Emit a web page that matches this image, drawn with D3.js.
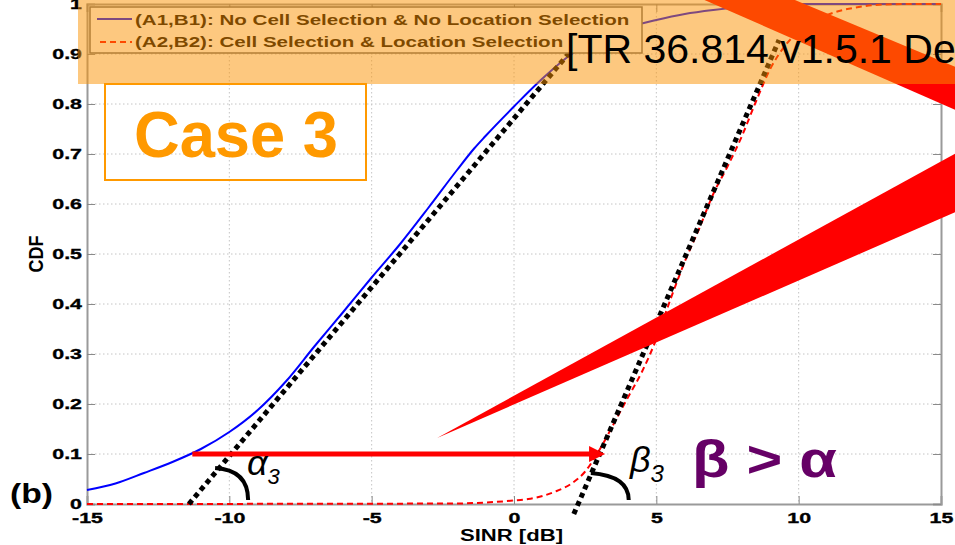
<!DOCTYPE html>
<html>
<head>
<meta charset="utf-8">
<script src="https://cdn.jsdelivr.net/npm/d3@7/dist/d3.min.js"></script>
<style>
  html, body { margin: 0; padding: 0; background: #fff; }
  svg { display: block; }
  text { font-family: "Liberation Sans", Arial, sans-serif; }
</style>
</head>
<body>
<svg id="chart" width="955" height="545"></svg>
<script>
// SINR CDF for the two selection schemes
const sinrBlue = [-15, -14, -13, -12, -11, -10, -9, -8, -7, -6, -5, -4, -3, -2, -1.4, -1, 0, 1, 2, 3, 4, 5, 6, 7, 8, 9, 10, 15];
const cdfBlue  = [0.028, 0.041, 0.062, 0.084, 0.11, 0.144, 0.188, 0.246, 0.316, 0.384, 0.453, 0.52, 0.593, 0.668, 0.711, 0.736, 0.795, 0.851, 0.899, 0.931, 0.953, 0.968, 0.98, 0.988, 0.994, 0.998, 1.0, 1.0];

const sinrRed = [-15, -2, -1, 0, 0.5, 1, 1.5, 2, 2.5, 3, 3.5, 4, 4.5, 5, 5.5, 6, 6.5, 7, 7.5, 8, 8.5, 9, 9.5, 10, 11, 12, 13, 14, 15];
const cdfRed  = [0, 0.001, 0.003, 0.007, 0.01, 0.016, 0.026, 0.04, 0.065, 0.108, 0.16, 0.213, 0.265, 0.33, 0.41, 0.485, 0.55, 0.62, 0.675, 0.735, 0.805, 0.87, 0.915, 0.945, 0.978, 0.993, 0.999, 1.0, 1.0];

// slope guides (SINR, CDF) end points
const tangentAlpha = [[-11.42, 0], [2.35, 0.93]];
const tangentBeta  = [[2.1, -0.02], [9.31, 0.928]];

// horizontal gap arrow at CDF = 0.1
const gapArrow = [[-11.3, 0.1], [3.2, 0.1]];

const xTicks = [-15, -10, -5, 0, 5, 10, 15];
const yTicks = [0, 0.1, 0.2, 0.3, 0.4, 0.5, 0.6, 0.7, 0.8, 0.9, 1];

const legendLabels = [
  "(A1,B1): No Cell Selection & No Location Selection",
  "(A2,B2): Cell Selection & Location Selection"
];

// callout wedges in data units
const wedgeLow = [[-2.7, 0.132], [15.6, 0.704], [15.6, 0.586]];
const wedgeTop = [[6.53, 1.012], [9.7, 1.012], [15.6, 0.872], [15.6, 0.786]];

const svg = d3.select("#chart");
const x = d3.scaleLinear().domain([-15, 15]).range([87, 941]);
const y = d3.scaleLinear().domain([0, 1]).range([504, 4]);

// widen a text element horizontally by a factor
const widen = (sel, k) => sel.each(function () {
  const len = this.getComputedTextLength();
  if (len > 0) d3.select(this).attr("textLength", len * k).attr("lengthAdjust", "spacingAndGlyphs");
});

svg.append("rect").attr("width", 955).attr("height", 545).attr("fill", "#fff");

// dotted grid
const grid = svg.append("g").attr("stroke", "#c4c4c4").attr("stroke-width", 1).attr("stroke-dasharray", "1.5 2.5");
grid.selectAll(".gx").data(xTicks.slice(1, -1)).join("line")
  .attr("x1", d => x(d)).attr("x2", d => x(d)).attr("y1", y(1)).attr("y2", y(0));
grid.selectAll(".gy").data(yTicks.slice(1, -1)).join("line")
  .attr("x1", x(-15)).attr("x2", x(15)).attr("y1", d => y(d)).attr("y2", d => y(d));

// axes with inward ticks
const fmt = d => String(d);
const axB = svg.append("g").attr("transform", `translate(0,${y(0)})`)
  .call(d3.axisBottom(x).tickValues(xTicks).tickFormat(fmt).tickSize(-8).tickPadding(8));
const axL = svg.append("g").attr("transform", `translate(${x(-15)},0)`)
  .call(d3.axisLeft(y).tickValues(yTicks).tickFormat(fmt).tickSize(-8).tickPadding(5));
const axR = svg.append("g").attr("transform", `translate(${x(15)},0)`)
  .call(d3.axisRight(y).tickValues(yTicks).tickFormat("").tickSize(-8));
const axT = svg.append("g").attr("transform", `translate(0,${y(1)})`)
  .call(d3.axisTop(x).tickValues(xTicks).tickFormat("").tickSize(-8));
[axB, axL, axR, axT].forEach(g => {
  g.select(".domain").attr("stroke", "#9a9a9a").attr("stroke-width", 2);
  g.selectAll(".tick line").attr("stroke", "#8a8a8a").attr("stroke-width", 1);
  g.selectAll(".tick text").attr("fill", "#000").attr("font-size", 15.5).attr("font-weight", "bold")
    .attr("font-family", "'Liberation Sans', Arial, sans-serif")
    .attr("stroke", "#000").attr("stroke-width", 0.35);
});
widen(axB.selectAll(".tick text"), 1.38);
widen(axL.selectAll(".tick text"), 1.38);

// curves
const line = d3.line().x(d => x(d[0])).y(d => y(d[1])).curve(d3.curveMonotoneX);
svg.append("path").datum(sinrBlue.map((s, i) => [s, cdfBlue[i]]))
  .attr("d", line).attr("fill", "none").attr("stroke", "#0000ff").attr("stroke-width", 2);
svg.append("path").datum(sinrRed.map((s, i) => [s, cdfRed[i]]))
  .attr("d", line).attr("fill", "none").attr("stroke", "#ff0000").attr("stroke-width", 2)
  .attr("stroke-dasharray", "6 4");

// slope guides
const straight = d3.line().x(d => x(d[0])).y(d => y(d[1]));
[tangentAlpha, tangentBeta].forEach(t => {
  svg.append("path").datum(t).attr("d", straight).attr("fill", "none")
    .attr("stroke", "#000").attr("stroke-width", 5).attr("stroke-dasharray", "5 4");
});

// legend
const leg = svg.append("g");
leg.append("rect").attr("x", 90).attr("y", 7).attr("width", 552).attr("height", 46)
  .attr("fill", "#fff").attr("stroke", "#6a6a6a").attr("stroke-width", 1.5);
leg.append("line").attr("x1", 97).attr("x2", 132).attr("y1", 19).attr("y2", 19)
  .attr("stroke", "#0000ff").attr("stroke-width", 2);
leg.append("line").attr("x1", 100).attr("x2", 132).attr("y1", 42).attr("y2", 42)
  .attr("stroke", "#ff0000").attr("stroke-width", 2).attr("stroke-dasharray", "6 4");
leg.selectAll("text").data(legendLabels).join("text")
  .attr("x", 135).attr("y", (d, i) => 25 + i * 22)
  .attr("font-size", 15).attr("font-weight", "bold").attr("fill", "#000")
  .text(d => d);
widen(leg.selectAll("text"), 1.37);

// callout wedges
const poly = pts => "M" + pts.map(p => `${x(p[0])},${y(p[1])}`).join("L") + "Z";
svg.append("path").attr("d", poly(wedgeTop)).attr("fill", "#ff0000");
svg.append("path").attr("d", poly(wedgeLow)).attr("fill", "#ff0000");

// translucent banner
svg.append("rect").attr("x", 78).attr("y", 0).attr("width", 877).attr("height", 84)
  .attr("fill", "rgb(251,145,0)").attr("fill-opacity", 0.5);
svg.append("text").attr("x", 566).attr("y", 63).attr("font-size", 41).attr("fill", "#000")
  .text("[TR 36.814 v1.5.1 De");

// case label
svg.append("rect").attr("x", 105).attr("y", 84).attr("width", 261).attr("height", 96)
  .attr("fill", "none").attr("stroke", "#ff9900").attr("stroke-width", 2);
svg.append("text").attr("x", 134).attr("y", 157)
  .attr("font-size", 65).attr("font-weight", "bold").attr("fill", "#ff9900")
  .attr("textLength", 204).attr("lengthAdjust", "spacingAndGlyphs").text("Case 3");

// gap arrow
const ax0 = x(gapArrow[0][0]), ax1 = x(gapArrow[1][0]), ay = y(gapArrow[0][1]);
svg.append("line").attr("x1", ax0).attr("x2", ax1 - 12).attr("y1", ay).attr("y2", ay)
  .attr("stroke", "#ff0000").attr("stroke-width", 5);
svg.append("path").attr("d", `M${ax1},${ay}L${ax1 - 16},${ay - 8}L${ax1 - 16},${ay + 8}Z`).attr("fill", "#ff0000");

// angle arcs
const arc = (p0, c, p1) => `M${x(p0[0])},${y(p0[1])}Q${x(c[0])},${y(c[1])} ${x(p1[0])},${y(p1[1])}`;
svg.append("path").attr("d", arc([-10.5, 0.072], [-9.34, 0.068], [-9.34, 0.008]))
  .attr("fill", "none").attr("stroke", "#000").attr("stroke-width", 4);
svg.append("path").attr("d", arc([2.7, 0.062], [4.03, 0.056], [4.03, 0.008]))
  .attr("fill", "none").attr("stroke", "#000").attr("stroke-width", 4);

const serif = "'Liberation Serif', 'DejaVu Serif', serif";
const ga = svg.append("text").attr("x", 247).attr("y", 475).attr("font-family", serif).attr("font-style", "italic").attr("fill", "#000");
ga.append("tspan").attr("font-size", 36).text("α");
ga.append("tspan").attr("font-size", 22).attr("dy", 9).text("3");
const gb = svg.append("text").attr("x", 630).attr("y", 472).attr("font-family", serif).attr("font-style", "italic").attr("fill", "#000");
gb.append("tspan").attr("font-size", 36).text("β");
gb.append("tspan").attr("font-size", 24).attr("dy", 10).text("3");

svg.append("text").attr("x", 692).attr("y", 477).attr("font-size", 52).attr("font-weight", "bold")
  .attr("fill", "#660066").attr("textLength", 145).attr("lengthAdjust", "spacingAndGlyphs").text("β > α");

// axis titles and panel tag
svg.append("text").attr("x", 460).attr("y", 541)
  .attr("font-size", 16).attr("font-weight", "bold")
  .attr("textLength", 103).attr("lengthAdjust", "spacingAndGlyphs").text("SINR [dB]");
svg.append("text").attr("transform", "translate(43,254) rotate(-90)").attr("text-anchor", "middle")
  .attr("font-size", 21).attr("font-weight", "bold")
  .attr("textLength", 37).attr("lengthAdjust", "spacingAndGlyphs").text("CDF");
svg.append("text").attr("x", 10).attr("y", 503).attr("font-size", 27).attr("font-weight", "bold")
  .attr("textLength", 43).attr("lengthAdjust", "spacingAndGlyphs").text("(b)");
</script>
</body>
</html>
